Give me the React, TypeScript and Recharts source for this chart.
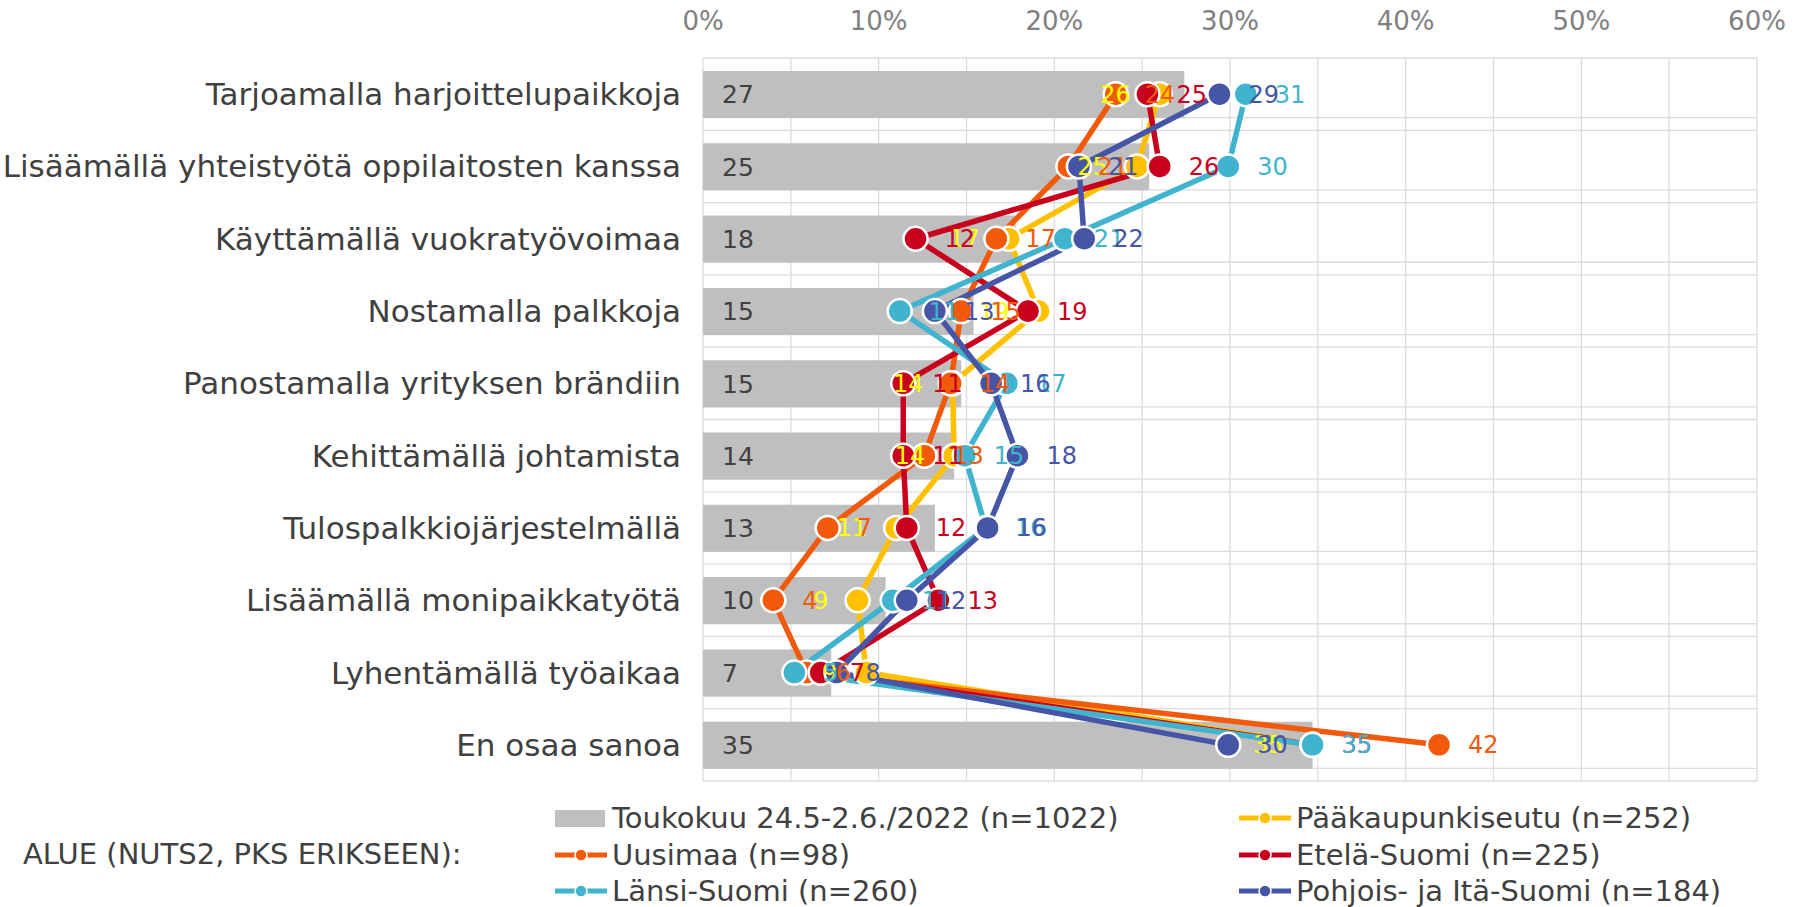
import { ComposedChart, Bar, Line, XAxis, YAxis, CartesianGrid, LabelList } from "recharts";

const FONT = '"DejaVu Sans", Verdana, sans-serif';

const categories = [
  "Tarjoamalla harjoittelupaikkoja",
  "Lisäämällä yhteistyötä oppilaitosten kanssa",
  "Käyttämällä vuokratyövoimaa",
  "Nostamalla palkkoja",
  "Panostamalla yrityksen brändiin",
  "Kehittämällä johtamista",
  "Tulospalkkiojärjestelmällä",
  "Lisäämällä monipaikkatyötä",
  "Lyhentämällä työaikaa",
  "En osaa sanoa",
];

// Toukokuu 24.5-2.6./2022 (n=1022), grey bars
const totalValues = [27.4, 25.4, 17.8, 15.4, 14.7, 14.3, 13.2, 10.4, 7.3, 34.7];
// region lines
const pksValues = [26.0, 24.7, 17.4, 19.1, 14.2, 14.3, 11.0, 8.8, 9.3, 34.7];
const uusimaaValues = [23.5, 20.8, 16.7, 14.7, 14.1, 12.6, 7.1, 4.0, 5.9, 41.9];
const etelaValues = [25.3, 26.0, 12.1, 18.5, 11.4, 11.4, 11.6, 13.4, 6.7, 34.7];
const lansiValues = [30.9, 29.9, 20.6, 11.2, 17.3, 14.9, 16.1, 10.8, 5.2, 34.7];
const pohjoisValues = [29.4, 21.4, 21.7, 13.2, 16.4, 17.9, 16.2, 11.6, 7.6, 29.9];

const xTicks = [0, 10, 20, 30, 40, 50, 60];

const data = categories.map((name, i) => ({
  name,
  total: totalValues[i],
  pks: pksValues[i],
  uusimaa: uusimaaValues[i],
  etela: etelaValues[i],
  lansi: lansiValues[i],
  pohjois: pohjoisValues[i],
}));

const series = [
  { key: "pks", name: "Pääkaupunkiseutu (n=252)", color: "#FFC000", labelColor: "#FFFF00", side: "left" },
  { key: "uusimaa", name: "Uusimaa (n=98)", color: "#F25A0B", labelColor: "#F25A0B", side: "right" },
  { key: "etela", name: "Etelä-Suomi (n=225)", color: "#C8001E", labelColor: "#C8001E", side: "right" },
  { key: "lansi", name: "Länsi-Suomi (n=260)", color: "#40B4CE", labelColor: "#40B4CE", side: "right" },
  { key: "pohjois", name: "Pohjois- ja Itä-Suomi (n=184)", color: "#4655A5", labelColor: "#4655A5", side: "right" },
];

const roundLabel = (v: unknown) => Math.round(Number(v));

function LineIcon({ color }: { color: string }) {
  return (
    <svg width={52} height={16} style={{ display: "block" }}>
      <line x1={0} y1={8} x2={52} y2={8} stroke={color} strokeWidth={5} />
      <circle cx={26} cy={8} r={6} fill={color} stroke="#fff" strokeWidth={1.5} />
    </svg>
  );
}

function LegendItem({ x, y, label, icon }: { x: number; y: number; label: string; icon: React.ReactNode }) {
  return (
    <div style={{ position: "absolute", left: x, top: y - 18, height: 36, display: "flex", alignItems: "center", whiteSpace: "nowrap" }}>
      <div style={{ width: 57 }}>{icon}</div>
      <span>{label}</span>
    </div>
  );
}

export default function App() {
  return (
    <div style={{ position: "absolute", left: 0, top: 0, width: 1794, height: 907, background: "#fff", fontFamily: FONT }}>
      <ComposedChart
        layout="vertical"
        width={1794}
        height={907}
        data={data}
        margin={{ top: 0, right: 37, bottom: 126, left: 0 }}
      >
        <CartesianGrid
          stroke="#dcdcdc"
          strokeWidth={1.3}
          horizontalCoordinatesGenerator={({ offset }: any) => {
            const band = offset.height / categories.length;
            const out: number[] = [];
            for (let i = 0; i <= categories.length; i++) out.push(offset.top + i * band);
            for (let i = 0; i < categories.length; i++) out.push(offset.top + i * band + band * 0.825);
            return out;
          }}
          verticalCoordinatesGenerator={({ offset }: any) => {
            const out: number[] = [];
            for (let i = 0; i <= 12; i++) out.push(offset.left + (i * offset.width) / 12);
            return out;
          }}
        />
        <XAxis
          type="number"
          orientation="top"
          domain={[0, 60]}
          ticks={xTicks}
          height={58}
          axisLine={false}
          tickLine={false}
          tickSize={0}
          tickMargin={28}
          tickFormatter={(v) => `${v}%`}
          tick={{ fill: "#808080", fontSize: 26, fontFamily: FONT }}
        />
        <YAxis
          type="category"
          dataKey="name"
          width={703}
          interval={0}
          axisLine={false}
          tickLine={false}
          tickSize={0}
          tickMargin={22}
          tick={{ fill: "#404040", fontSize: 31, fontFamily: FONT }}
        />
        <Bar dataKey="total" fill="#BFBFBF" barSize={47} isAnimationActive={false}>
          <LabelList
            dataKey="total"
            position="insideLeft"
            offset={19}
            formatter={roundLabel}
            fill="#404040"
            fontSize={25}
            fontFamily={FONT}
          />
        </Bar>
        {series.map((s) => (
          <Line
            key={s.key}
            type="linear"
            dataKey={s.key}
            stroke={s.color}
            strokeWidth={5.5}
            dot={{ r: 12, fill: s.color, stroke: "#fff", strokeWidth: 2.5 }}
            activeDot={false}
            isAnimationActive={false}
          />
        ))}
        {series.map((s) => (
          <Line
            key={s.key + "-labels"}
            type="linear"
            dataKey={s.key}
            stroke="none"
            dot={false}
            activeDot={false}
            legendType="none"
            isAnimationActive={false}
          >
            <LabelList
              dataKey={s.key}
              position={s.side as "left" | "right"}
              offset={29}
              formatter={roundLabel}
              fill={s.labelColor}
              fontSize={24}
              fontFamily={FONT}
            />
          </Line>
        ))}
      </ComposedChart>

      <div style={{ position: "absolute", left: 0, top: 0, width: 1794, height: 907, fontSize: 29, color: "#404040", pointerEvents: "none" }}>
        <div style={{ position: "absolute", left: 23, top: 854 - 18, height: 36, display: "flex", alignItems: "center", whiteSpace: "nowrap" }}>
          ALUE (NUTS2, PKS ERIKSEEN):
        </div>
        <LegendItem
          x={555}
          y={818}
          label="Toukokuu 24.5-2.6./2022 (n=1022)"
          icon={<div style={{ width: 50, height: 17, background: "#BFBFBF" }} />}
        />
        <LegendItem x={1239} y={818} label={series[0].name} icon={<LineIcon color={series[0].color} />} />
        <LegendItem x={555} y={854.5} label={series[1].name} icon={<LineIcon color={series[1].color} />} />
        <LegendItem x={1239} y={854.5} label={series[2].name} icon={<LineIcon color={series[2].color} />} />
        <LegendItem x={555} y={891} label={series[3].name} icon={<LineIcon color={series[3].color} />} />
        <LegendItem x={1239} y={891} label={series[4].name} icon={<LineIcon color={series[4].color} />} />
      </div>
    </div>
  );
}
